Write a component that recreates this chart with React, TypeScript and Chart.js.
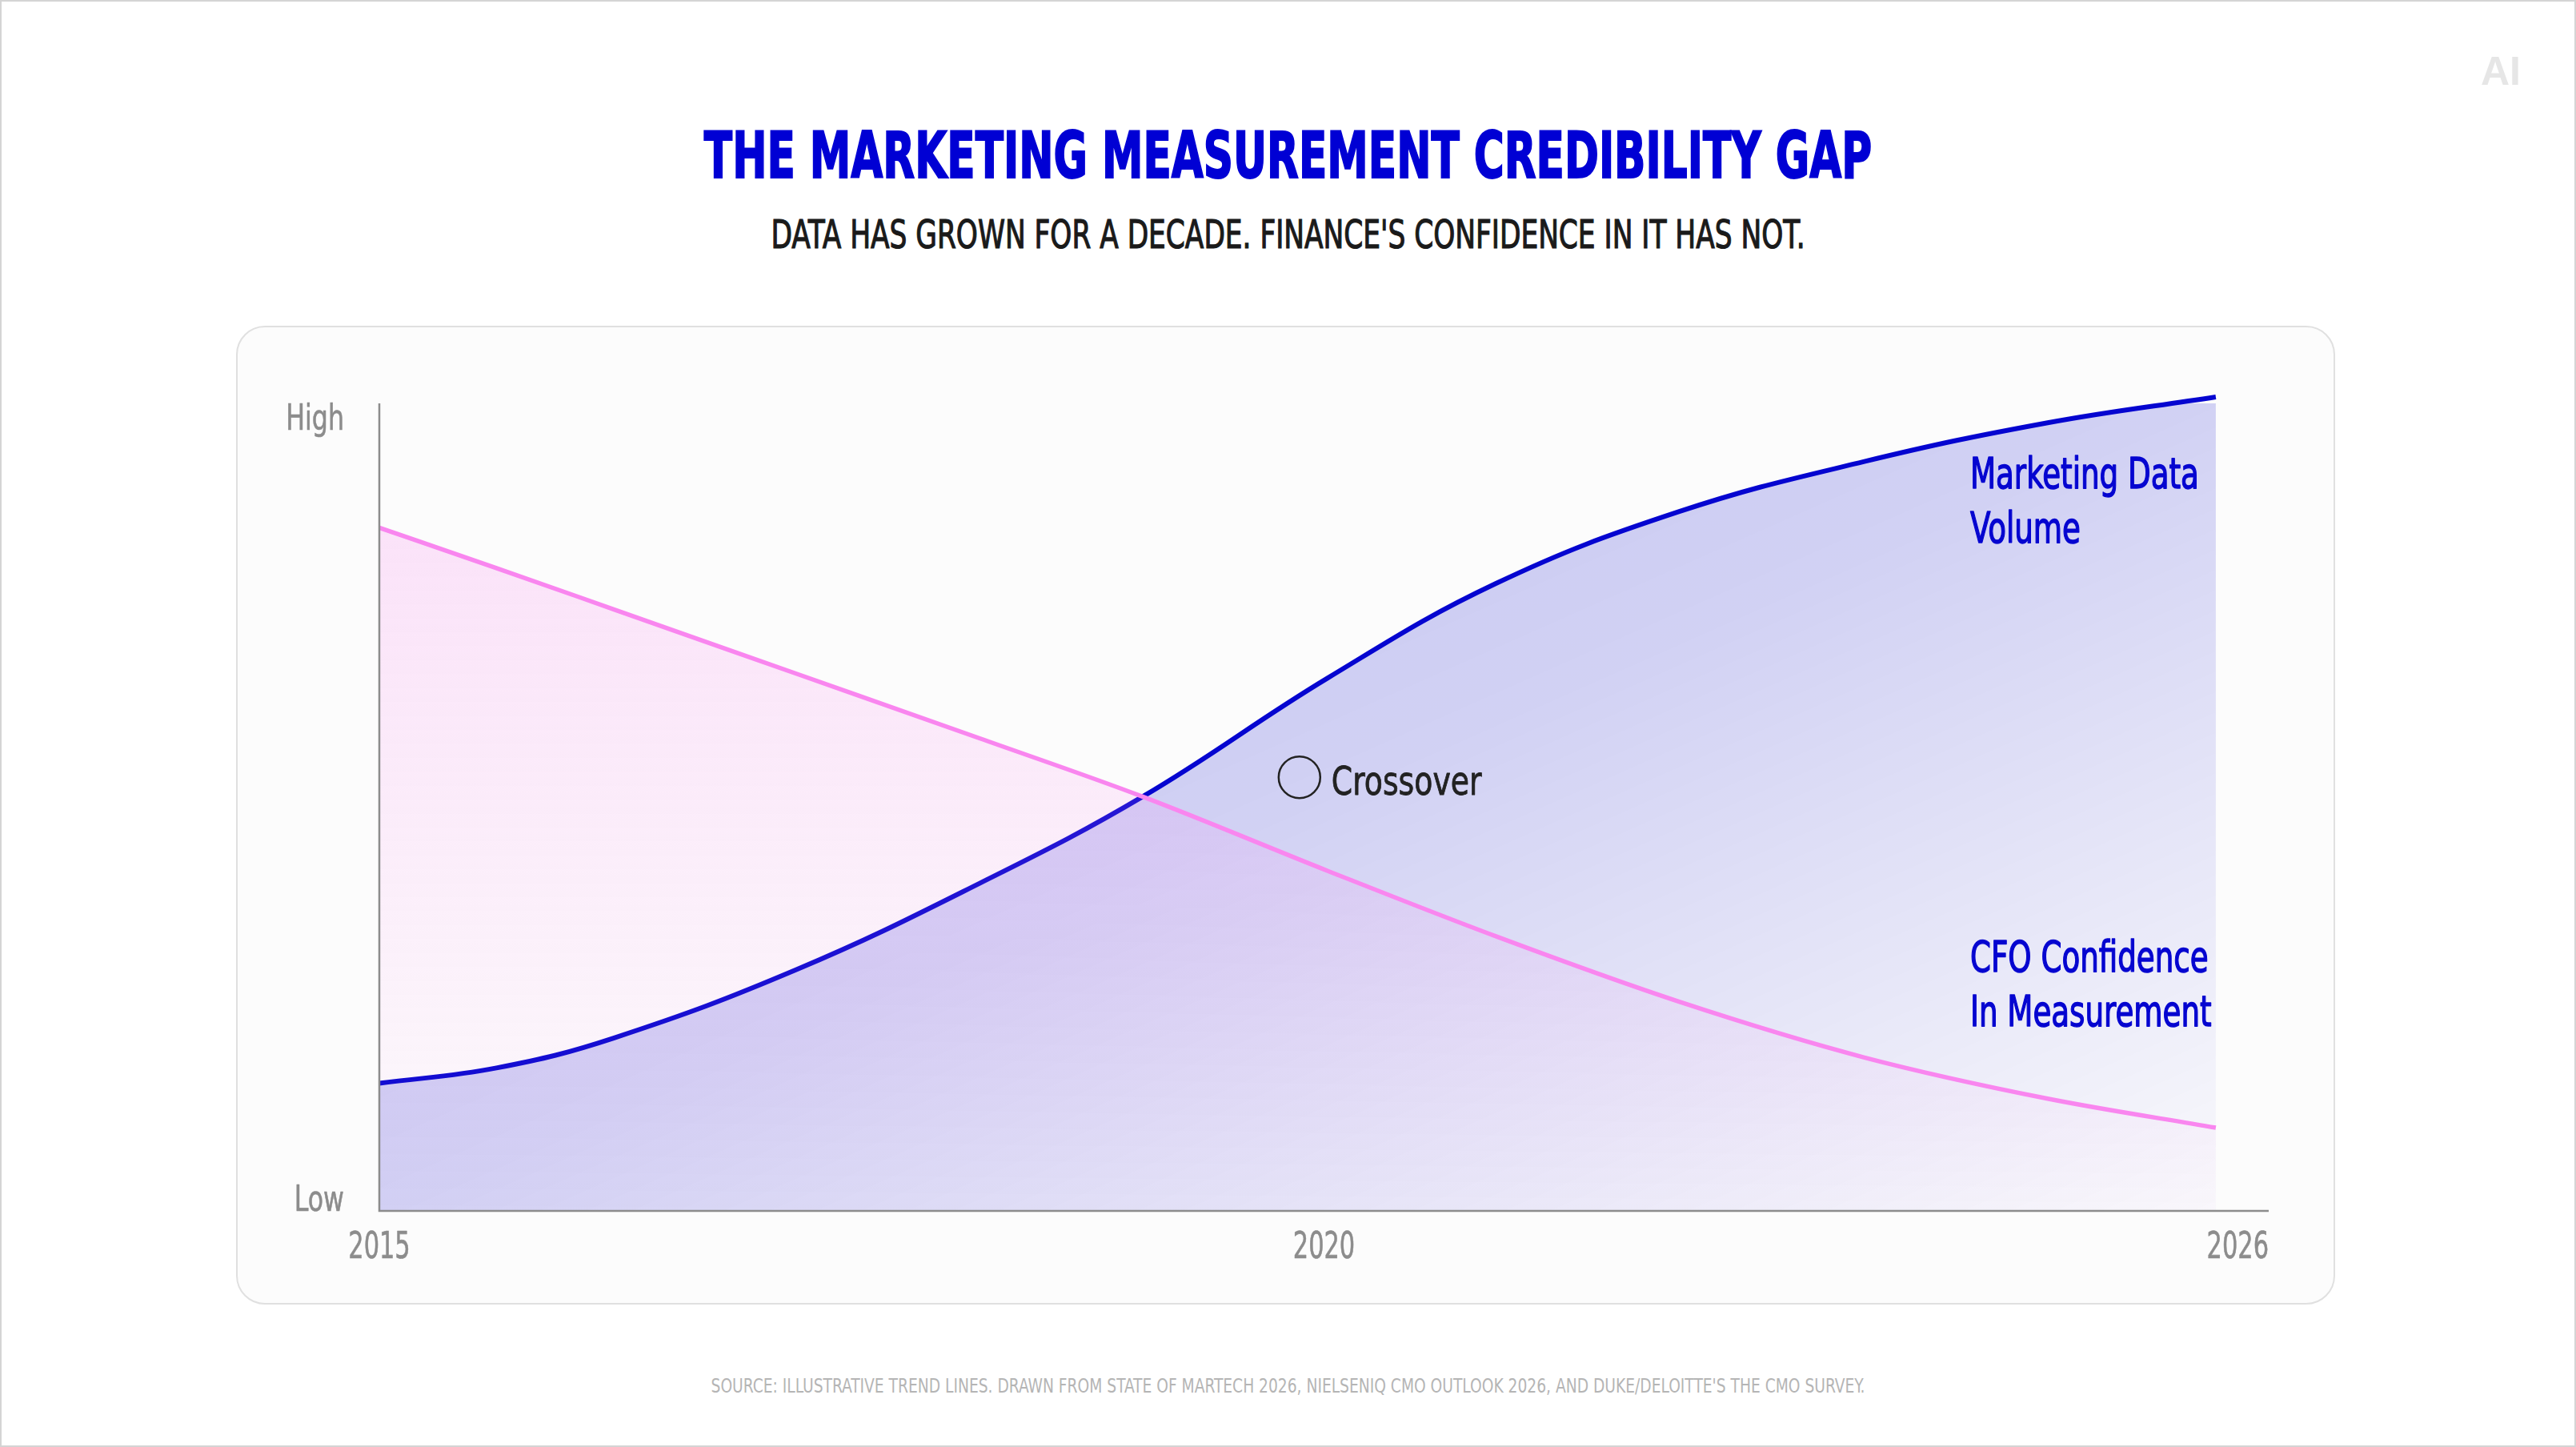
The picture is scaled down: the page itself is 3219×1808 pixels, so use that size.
import React, { useEffect, useRef } from "react";
import { Chart, registerables } from "chart.js";

Chart.register(...registerables);

// ---- data ----
const timelinePos = [0, 6.2, 12.4, 22.1, 31.8, 40.4, 50.2, 59.1, 68.8, 78.6, 88.3, 97.2];
const dataVolume = [15.8, 17.7, 21.4, 29.9, 40.6, 51.3, 66.0, 77.7, 86.6, 92.8, 97.6, 100.8];
const cfoConfidence = [84.6, 79.6, 74.5, 66.5, 58.5, 51.3, 42.1, 34.0, 25.9, 19.0, 13.9, 10.3];
const xTickValues = [0, 50, 100];
const xTickLabels = ["2015", "2020", "2026"];
const yAxisLabels = ["Low", "High"];
const crossoverPoint = [48.7, 53.7];
const seriesLabels = [
  { lines: ["Marketing Data", "Volume"], x: 84.2, y: 89.5 },
  { lines: ["CFO Confidence", "In Measurement"], x: 84.2, y: 29.6 },
];

const W = 3219;
const H = 1808;
const NARROW = "'Liberation Sans Narrow', 'DejaVu Sans Condensed', 'Roboto', sans-serif";
const BLUE = "#0505d0";
const PINK = "#f986ef";
const GREY = "#8c8c8c";

function drawText(
  ctx: CanvasRenderingContext2D,
  text: string,
  x: number,
  y: number,
  font: string,
  color: string,
  align: CanvasTextAlign,
  sx: number,
  stroke = 0
) {
  ctx.save();
  ctx.font = font;
  ctx.fillStyle = color;
  ctx.textAlign = align;
  ctx.textBaseline = "alphabetic";
  ctx.translate(x, y);
  ctx.scale(sx, 1);
  ctx.fillText(text, 0, 0);
  if (stroke > 0) {
    ctx.strokeStyle = color;
    ctx.lineWidth = stroke;
    ctx.lineJoin = "round";
    ctx.strokeText(text, 0, 0);
  }
  ctx.restore();
}

const overlayPlugin = {
  id: "overlay",
  afterDatasetsDraw(chart: any) {
    const { ctx, chartArea: a, scales } = chart;
    const xs = scales.x;
    const ys = scales.y;
    ctx.save();
    ctx.strokeStyle = GREY;
    ctx.lineWidth = 2.5;
    ctx.beginPath();
    ctx.moveTo(a.left, a.top);
    ctx.lineTo(a.left, a.bottom);
    ctx.lineTo(a.right, a.bottom);
    ctx.stroke();
    ctx.restore();

    // y labels
    drawText(ctx, yAxisLabels[1], a.left - 44, a.top + 33, `44px ${NARROW}`, GREY, "right", 0.8, 0.6);
    drawText(ctx, yAxisLabels[0], a.left - 44, a.bottom, `44px ${NARROW}`, GREY, "right", 0.8, 0.6);

    // x tick labels
    xTickValues.forEach((v, i) => {
      const px = xs.getPixelForValue(v);
      const align: CanvasTextAlign = i === xTickValues.length - 1 ? "right" : "center";
      drawText(ctx, xTickLabels[i], px, a.bottom + 59, `47px ${NARROW}`, GREY, align, 0.72, 0.6);
    });

    // crossover label
    const cx = xs.getPixelForValue(crossoverPoint[0]);
    const cy = ys.getPixelForValue(crossoverPoint[1]);
    drawText(ctx, "Crossover", cx + 40, cy + 22, `50px ${NARROW}`, "#222222", "left", 0.84, 0.8);

    // series labels
    seriesLabels.forEach((s) => {
      const lx = xs.getPixelForValue(s.x);
      const ly = ys.getPixelForValue(s.y);
      s.lines.forEach((ln, i) => {
        drawText(ctx, ln, lx, ly + i * 68, `53px ${NARROW}`, BLUE, "left", 0.78, 1.4);
      });
    });
  },
};

function blueFill(context: any) {
  const chart = context.chart;
  const a = chart.chartArea;
  if (!a) return "rgba(0,0,205,0.18)";
  const xs = chart.scales.x;
  const ys = chart.scales.y;
  const x0 = a.left;
  const x1 = xs.getPixelForValue(timelinePos[timelinePos.length - 1]);
  const y0 = ys.getPixelForValue(Math.max(...dataVolume));
  const y1 = a.bottom;
  const bw = x1 - x0;
  const bh = y1 - y0;
  const k = (2 * bw * bh) / (bw * bw + bh * bh);
  const g = chart.ctx.createLinearGradient(x0, y0, x0 + bh * k, y0 + bw * k);
  g.addColorStop(0, "rgba(0,0,205,0.24)");
  g.addColorStop(0.5, "rgba(0,0,205,0.17)");
  g.addColorStop(1, "rgba(0,0,205,0.01)");
  return g;
}

function pinkFill(context: any) {
  const chart = context.chart;
  const a = chart.chartArea;
  if (!a) return "rgba(249,134,239,0.15)";
  const ys = chart.scales.y;
  const y0 = ys.getPixelForValue(Math.max(...cfoConfidence));
  const g = chart.ctx.createLinearGradient(0, y0, 0, a.bottom);
  g.addColorStop(0, "rgba(249,134,239,0.21)");
  g.addColorStop(1, "rgba(249,134,239,0.02)");
  return g;
}

export default function App() {
  const ref = useRef<HTMLCanvasElement | null>(null);

  useEffect(() => {
    document.body.style.margin = "0";
    if (!ref.current) return;
    const chart = new Chart(ref.current, {
      type: "line",
      data: {
        datasets: [
          {
            type: "scatter" as any,
            label: "Crossover",
            data: [{ x: crossoverPoint[0], y: crossoverPoint[1] }],
            pointRadius: 26,
            pointBorderWidth: 2.5,
            pointBorderColor: "#222222",
            pointBackgroundColor: "rgba(0,0,0,0)",
            showLine: false,
            clip: false as any,
          } as any,
          {
            label: "CFO Confidence In Measurement",
            data: timelinePos.map((x, i) => ({ x, y: cfoConfidence[i] })),
            borderColor: PINK,
            borderWidth: 5.5,
            backgroundColor: pinkFill,
            fill: "origin",
            pointRadius: 0,
            cubicInterpolationMode: "monotone",
            clip: false as any,
          },
          {
            label: "Marketing Data Volume",
            data: timelinePos.map((x, i) => ({ x, y: dataVolume[i] })),
            borderColor: BLUE,
            borderWidth: 6,
            backgroundColor: blueFill,
            fill: "origin",
            pointRadius: 0,
            tension: 0.4,
            clip: false as any,
          },
        ],
      },
      options: {
        animation: false,
        responsive: false,
        devicePixelRatio: 1,
        events: [],
        layout: { padding: { left: 474, top: 504, right: W - 2835, bottom: H - 1513 } },
        plugins: { legend: { display: false }, tooltip: { enabled: false }, title: { display: false } },
        scales: {
          x: { type: "linear", min: 0, max: 100, display: false },
          y: { type: "linear", min: 0, max: 100, display: false },
        },
      },
      plugins: [overlayPlugin],
    });
    return () => chart.destroy();
  }, []);

  const banner = (extra: React.CSSProperties): React.CSSProperties => ({
    position: "absolute",
    left: 0,
    width: W - 4,
    textAlign: "center",
    fontFamily: NARROW,
    transformOrigin: "50% 50%",
    whiteSpace: "nowrap",
    ...extra,
  });

  return (
    <div
      style={{
        position: "relative",
        width: W,
        height: H,
        boxSizing: "border-box",
        border: "2px solid #d4d4d4",
        background: "#ffffff",
        overflow: "hidden",
      }}
    >
      <div
        style={{
          position: "absolute",
          left: 295 - 2,
          top: 407 - 2,
          width: 2623,
          height: 1223,
          boxSizing: "border-box",
          border: "2px solid #e0e0e0",
          borderRadius: 36,
          background: "#fcfcfc",
        }}
      />
      <div
        style={banner({
          top: 154 - 2,
          fontWeight: 700,
          fontSize: 81,
          lineHeight: "81px",
          color: "#0000d4",
          transform: "scaleX(0.71)",
          WebkitTextStroke: "2px #0000d4",
        } as React.CSSProperties)}
      >
        THE MARKETING MEASUREMENT CREDIBILITY GAP
      </div>
      <div
        style={banner({
          top: 269 - 2,
          fontWeight: 400,
          fontSize: 49,
          lineHeight: "49px",
          color: "#1a1a1a",
          transform: "scaleX(0.78)",
          WebkitTextStroke: "1.2px #1a1a1a",
        } as React.CSSProperties)}
      >
        DATA HAS GROWN FOR A DECADE. FINANCE'S CONFIDENCE IN IT HAS NOT.
      </div>
      <div
        style={banner({
          top: 1719 - 2,
          fontSize: 25,
          lineHeight: "25px",
          color: "#b5b5b5",
          transform: "scaleX(0.83)",
        })}
      >
        SOURCE: ILLUSTRATIVE TREND LINES. DRAWN FROM STATE OF MARTECH 2026, NIELSENIQ CMO OUTLOOK 2026, AND DUKE/DELOITTE'S THE CMO SURVEY.
      </div>
      <div
        style={{
          position: "absolute",
          left: 3100 - 2,
          top: 64 - 2,
          fontFamily: "'Liberation Sans', sans-serif",
          fontWeight: 700,
          fontSize: 50,
          lineHeight: "50px",
          color: "#e6e6e6",
        }}
      >
        AI
      </div>
      <canvas
        ref={ref}
        width={W}
        height={H}
        style={{ position: "absolute", left: -2, top: -2, width: W, height: H }}
      />
    </div>
  );
}
